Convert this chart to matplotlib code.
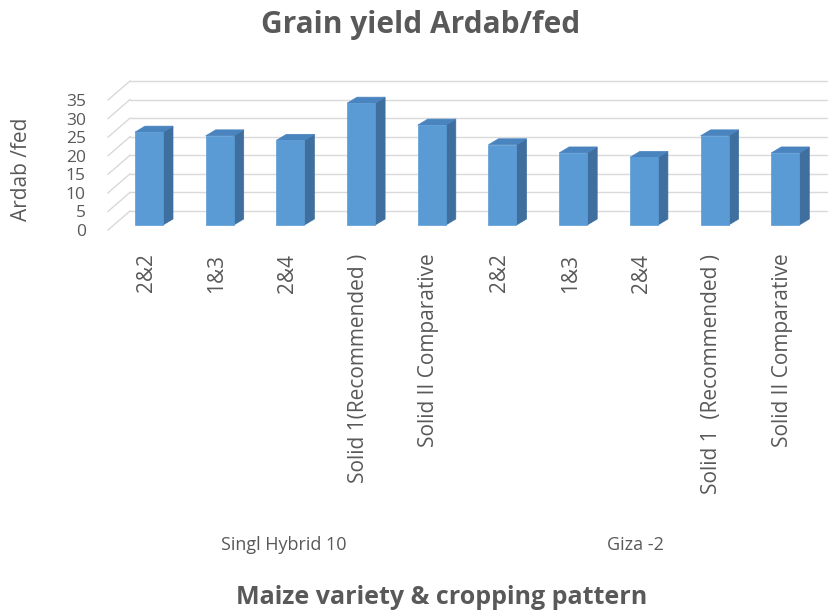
import matplotlib

matplotlib.use("Agg")
import matplotlib.pyplot as plt
from matplotlib.patches import Polygon

plt.rcParams["font.family"] = ["Open Sans", "DejaVu Sans"]

# --- data ---
categories = [
    "2&2", "1&3", "2&4", "Solid 1(Recommended )", "Solid II Comparative",
    "2&2", "1&3", "2&4", "Solid 1  (Recommended )", "Solid II Comparative",
]
yields = [25.0, 24.0, 22.8, 32.8, 26.9, 21.6, 19.4, 18.2, 24.0, 19.4]
groups = ["Singl Hybrid 10", "Giza -2"]
yticks = [0, 5, 10, 15, 20, 25, 30, 35]

TEXT = "#595959"
GRID = "#d9d9d9"
FRONT = "#5b9bd5"
SIDE = "#3e6f9e"
TOP = "#4a84bf"

# pixel geometry of the fake 3D box (figure is 829x613 px)
W, H = 829, 613
PX_X = 70.7            # px per category
PX_Y = 130 / 35        # px per unit of yield
wall_dx, wall_dy = 22 / PX_X, 19 / PX_Y     # back wall depth shift
lift = 5 / PX_Y                             # bar front sits a little behind front edge
bar_w = 28 / PX_X
bar_dx, bar_dy = 10 / PX_X, 6 / PX_Y        # bar depth

fig = plt.figure(figsize=(W / 100, H / 100), dpi=100)
left, y0 = 108, 230
ax = fig.add_axes([left / W, 1 - y0 / H, (W - left) / W, 130 / H])
xmin, xmax = (left - 149) / PX_X, (W - 149) / PX_X
ax.set_xlim(xmin, xmax)
ax.set_ylim(0, 35)
for s in ax.spines.values():
    s.set_visible(False)

# side wall diagonals + back wall gridlines
for v in yticks:
    ax.plot([xmin, xmin + wall_dx], [v, v + wall_dy], color=GRID, lw=1.0,
            clip_on=False, zorder=1)
    ax.plot([xmin + wall_dx, xmax], [v + wall_dy, v + wall_dy], color=GRID,
            lw=1.0, clip_on=False, zorder=1)

# 3D-looking columns
for i, v in enumerate(yields):
    x0, x1 = i - bar_w / 2, i + bar_w / 2
    b, t = lift, lift + v
    front = [(x0, b), (x1, b), (x1, t), (x0, t)]
    side = [(x1, b), (x1 + bar_dx, b + bar_dy), (x1 + bar_dx, t + bar_dy), (x1, t)]
    top = [(x0, t), (x1, t), (x1 + bar_dx, t + bar_dy), (x0 + bar_dx, t + bar_dy)]
    for pts, c in ((side, SIDE), (top, TOP), (front, FRONT)):
        ax.add_patch(Polygon(pts, closed=True, fc=c, ec=c, lw=0.5,
                             clip_on=False, zorder=3))

ax.set_yticks(yticks)
ax.set_yticklabels([str(v) for v in yticks], fontsize=12.5, color=TEXT)
ax.tick_params(axis="y", length=0, pad=16)
ax.set_xticks([i - 0.04 for i in range(len(categories))])
ax.set_xticklabels(categories, rotation=90, fontsize=15, color=TEXT)
ax.tick_params(axis="x", length=0, pad=17)
ax.set_ylabel("Ardab /fed", fontsize=15, color=TEXT)
ax.yaxis.set_label_coords(-0.105, 0.47)

fig.text(421 / W, 1 - 25 / H, "Grain yield Ardab/fed", ha="center", va="center",
         fontsize=21.5, fontweight="bold", color=TEXT)
fig.text(284 / W, 1 - 545 / H, groups[0], ha="center", va="center",
         fontsize=13, color=TEXT)
fig.text(635 / W, 1 - 545 / H, groups[1], ha="center", va="center",
         fontsize=13, color=TEXT)
fig.text(442 / W, 1 - 598 / H, "Maize variety & cropping pattern", ha="center",
         va="center", fontsize=18, fontweight="bold", color=TEXT)

fig.savefig("out.png", dpi=100)
